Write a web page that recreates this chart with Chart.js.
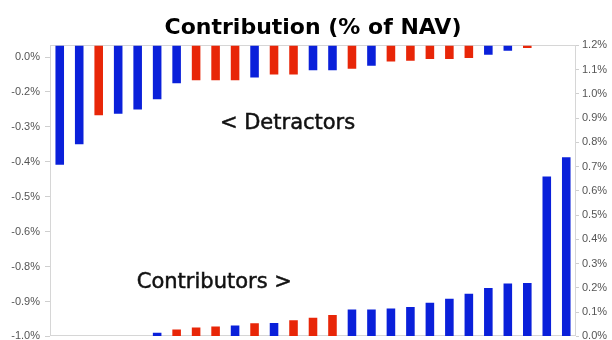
<!DOCTYPE html>
<html>
<head>
<meta charset="utf-8">
<title>Contribution (% of NAV)</title>
<script src="https://cdn.jsdelivr.net/npm/chart.js@4.4.1/dist/chart.umd.min.js"></script>
<style>
  html, body { margin: 0; padding: 0; background: #fff; }
  #wrap { width: 612px; height: 340px; overflow: hidden; }
  #box { width: 612px; height: 348px; }
</style>
</head>
<body>
<div id="wrap"><div id="box"><canvas id="chart"></canvas></div></div>
<script>
///////////////////////////////
// Data
///////////////////////////////
const positions = ['1', '2', '3', '4', '5', '6', '7', '8', '9', '10', '11', '12', '13', '14',
  '15', '16', '17', '18', '19', '20', '21', '22', '23', '24', '25', '26', '27'];

// left axis, hanging from the top
const detractors = [-0.41, -0.34, -0.24, -0.235, -0.22, -0.185, -0.13, -0.12, -0.12, -0.12,
  -0.11, -0.10, -0.10, -0.085, -0.085, -0.08, -0.07, -0.055, -0.053, -0.047,
  -0.047, -0.043, -0.032, -0.018, -0.009, null, null];
const detractorSides = ['long', 'long', 'short', 'long', 'long', 'long', 'long', 'short', 'short', 'short',
  'long', 'short', 'short', 'long', 'long', 'short', 'long', 'short', 'short', 'short',
  'short', 'short', 'long', 'long', 'short', null, null];

// right axis, rising from the bottom
const contributors = [null, null, null, null, null, 0.015, 0.028, 0.037, 0.041, 0.045,
  0.054, 0.055, 0.067, 0.077, 0.088, 0.111, 0.111, 0.115, 0.121, 0.139,
  0.155, 0.176, 0.200, 0.218, 0.220, 0.659, 0.739];
const contributorSides = [null, null, null, null, null, 'long', 'short', 'short', 'short', 'long',
  'short', 'long', 'short', 'short', 'short', 'long', 'long', 'long', 'long', 'long',
  'long', 'long', 'long', 'long', 'long', 'long', 'long'];

const leftTicks = [-1.0, -0.88, -0.76, -0.64, -0.52, -0.40, -0.28, -0.16, -0.04];
const leftTickLabels = ['-1.0%', '-0.9%', '-0.8%', '-0.6%', '-0.5%', '-0.4%', '-0.3%', '-0.2%', '0.0%'];
const rightTicks = [0, 0.1, 0.2, 0.3, 0.4, 0.5, 0.6, 0.7, 0.8, 0.9, 1.0, 1.1, 1.2];
const rightTickLabels = ['0.0%', '0.1%', '0.2%', '0.3%', '0.4%', '0.5%', '0.6%', '0.7%', '0.8%', '0.9%', '1.0%', '1.1%', '1.2%'];

const sideColors = { long: 'rgb(10, 32, 218)', short: 'rgb(232, 38, 8)' };

//the two text notes inside the plot (fractions of the plot area)
const notes = [
  { text: '< Detractors', fx: 0.323, fy: 0.286 },
  { text: 'Contributors >', fx: 0.165, fy: 0.835 }
];

///////////////////////////////
// Plugin: frame + notes
///////////////////////////////
const frameAndNotes = {
  id: 'frameAndNotes',
  beforeDatasetsDraw(chart) {
    const { ctx, chartArea: a } = chart;
    ctx.save();
    ctx.strokeStyle = '#d6d6d6';
    ctx.lineWidth = 1;
    ctx.strokeRect(Math.round(a.left) + 0.5, Math.round(a.top) + 0.5,
      Math.round(a.width) - 1, Math.round(a.height) - 1);
    ctx.restore();
  },
  afterDatasetsDraw(chart) {
    const { ctx, chartArea: a } = chart;
    ctx.save();
    ctx.fillStyle = '#111';
    ctx.strokeStyle = '#111';
    ctx.lineWidth = 0.5;
    ctx.font = '21px "DejaVu Sans"';
    ctx.textBaseline = 'alphabetic';
    notes.forEach(n => {
      const x = a.left + n.fx * a.width;
      const y = a.top + n.fy * a.height;
      ctx.fillText(n.text, x, y);
      ctx.strokeText(n.text, x, y);
    });
    ctx.restore();
  }
};

const tickFont = { family: '"Liberation Sans", Arial, sans-serif', size: 11 };

new Chart(document.getElementById('chart'), {
  type: 'bar',
  data: {
    labels: positions,
    datasets: [
      {
        label: 'Detractors',
        data: detractors,
        yAxisID: 'yLeft',
        backgroundColor: detractorSides.map(s => sideColors[s] || 'transparent')
      },
      {
        label: 'Contributors',
        data: contributors,
        yAxisID: 'yRight',
        backgroundColor: contributorSides.map(s => sideColors[s] || 'transparent')
      }
    ]
  },
  options: {
    responsive: true,
    maintainAspectRatio: false,
    animation: false,
    devicePixelRatio: 1,
    grouped: false,
    barPercentage: 0.44,
    categoryPercentage: 1.0,
    layout: { padding: 0 },
    plugins: {
      legend: { display: false },
      tooltip: { enabled: false },
      title: {
        display: true,
        fullSize: false,
        text: 'Contribution (% of NAV)',
        color: '#000',
        font: { family: '"DejaVu Sans"', size: 22, weight: 'bold', lineHeight: 1.2 },
        padding: { top: 15, bottom: 4 }
      }
    },
    scales: {
      x: {
        type: 'category',
        display: false
      },
      yLeft: {
        position: 'left',
        min: -1.0,
        max: 0,
        afterBuildTicks: s => { s.ticks = leftTicks.map(v => ({ value: v })); },
        afterFit: s => { s.width = 50; },
        ticks: {
          autoSkip: false,
          padding: 5,
          color: '#555',
          font: tickFont,
          callback: (v, i) => leftTickLabels[i]
        },
        grid: { drawOnChartArea: false, tickLength: 5, color: '#cfcfcf' },
        border: { display: false }
      },
      yRight: {
        position: 'right',
        min: 0,
        max: 1.2,
        afterBuildTicks: s => { s.ticks = rightTicks.map(v => ({ value: v })); },
        afterFit: s => { s.width = 36; },
        ticks: {
          autoSkip: false,
          padding: 3,
          color: '#555',
          font: tickFont,
          callback: (v, i) => rightTickLabels[i]
        },
        grid: { drawOnChartArea: false, tickLength: 3, color: '#cfcfcf' },
        border: { display: false }
      }
    }
  },
  plugins: [frameAndNotes]
});
</script>
</body>
</html>
